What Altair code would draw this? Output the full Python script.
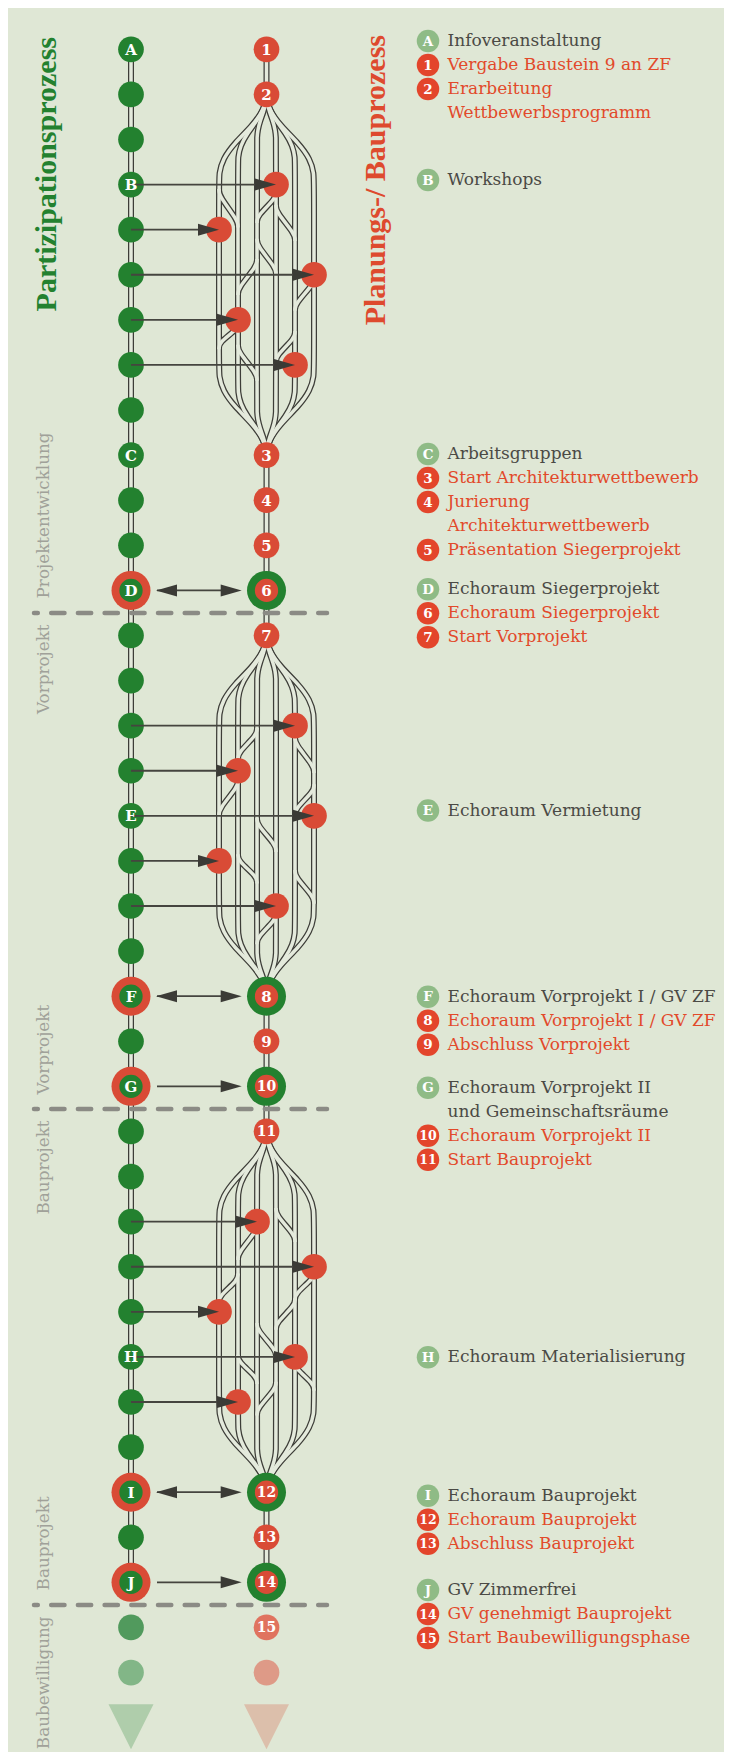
import altair as alt
import pandas as pd

# ---------------- data ----------------
GREEN_STEPS = list(range(35))
GREEN_LETTERS = ["A", "B", "C", "D", "E", "F", "G", "H", "I", "J"]
GREEN_LETTER_STEPS = [0, 3, 9, 12, 17, 21, 23, 29, 32, 34]
ECHO_STEPS = [12, 21, 23, 32, 34]
RED_NUMBERS = ["1", "2", "3", "4", "5", "6", "7", "8", "9", "10", "11", "12", "13", "14"]
RED_NUMBER_STEPS = [0, 1, 9, 10, 11, 12, 13, 21, 22, 23, 24, 32, 33, 34]
FADED_STEPS = [35, 36]
FADED_RED_LABELS = ["15", ""]
ARROW_DOWN_STEP = 37

BRAID_TOPS = [1, 13, 24]
BRAID_LEN = 8
BRAID_NODE_REL = [2, 3, 4, 5, 6]
BRAID_NODE_LANE = [[3, 0, 5, 1, 4], [4, 1, 5, 0, 3], [2, 5, 0, 4, 1]]
BRAID_WIGGLES = [
    [(2.1, 0, 2.95, 1), (2.15, 3, 2.85, 2), (2.45, 3, 3.25, 4), (3.2, 2, 4.0, 3),
     (3.65, 2, 4.45, 1), (4.05, 5, 4.8, 4), (5.05, 1, 5.65, 0), (5.25, 4, 5.95, 3),
     (5.55, 1, 6.35, 2)],
    [(2.05, 2, 2.75, 1), (2.25, 4, 3.05, 5), (3.2, 1, 4.0, 0), (3.3, 5, 4.0, 4),
     (4.05, 2, 4.8, 3), (4.85, 1, 5.5, 2), (5.2, 4, 5.95, 5), (6.15, 3, 6.85, 2)],
    [(1.7, 3, 2.45, 4), (2.05, 2, 2.85, 1), (3.15, 1, 3.8, 0), (3.1, 5, 3.75, 4),
     (3.7, 4, 4.4, 3), (4.25, 2, 5.0, 3), (4.95, 1, 5.6, 2), (5.1, 4, 5.75, 5),
     (5.55, 3, 6.3, 2)],
]
TWO_WAY_STEPS = [12, 21, 32]
ONE_WAY_STEPS = [23, 34]

PHASE_BREAKS = [12.5, 23.5, 34.5]
PHASE_LABELS = ["Projektentwicklung", "Vorprojekt", "Vorprojekt", "Bauprojekt", "Bauprojekt", "Baubewilligung"]
PHASE_BREAK_OF = [0, 0, 1, 1, 2, 2]
PHASE_SIDE = ["above", "below", "above", "below", "above", "below"]

TITLES = ["Partizipationsprozess", "Planungs-/ Bauprozess"]

LEGEND_BADGE = ["A", "1", "2", "", "B",
                "C", "3", "4", "", "5",
                "D", "6", "7", "E",
                "F", "8", "9",
                "G", "", "10", "11", "H",
                "I", "12", "13",
                "J", "14", "15"]
LEGEND_SIDE = ["g", "r", "r", "r", "g",
               "g", "r", "r", "r", "r",
               "g", "r", "r", "g",
               "g", "r", "r",
               "g", "g", "r", "r", "g",
               "g", "r", "r",
               "g", "r", "r"]
LEGEND_TEXT = ["Infoveranstaltung", "Vergabe Baustein 9 an ZF", "Erarbeitung", "Wettbewerbsprogramm", "Workshops",
               "Arbeitsgruppen", "Start Architekturwettbewerb", "Jurierung", "Architekturwettbewerb", "Präsentation Siegerprojekt",
               "Echoraum Siegerprojekt", "Echoraum Siegerprojekt", "Start Vorprojekt", "Echoraum Vermietung",
               "Echoraum Vorprojekt I / GV ZF", "Echoraum Vorprojekt I / GV ZF", "Abschluss Vorprojekt",
               "Echoraum Vorprojekt II", "und Gemeinschaftsräume", "Echoraum Vorprojekt II", "Start Bauprojekt", "Echoraum Materialisierung",
               "Echoraum Bauprojekt", "Echoraum Bauprojekt", "Abschluss Bauprojekt",
               "GV Zimmerfrei", "GV genehmigt Bauprojekt", "Start Baubewilligungsphase"]
LEGEND_GROUP = [0, 0, 0, 0, 1,
                2, 2, 2, 2, 2,
                3, 3, 3, 4,
                5, 5, 5,
                6, 6, 6, 6, 7,
                8, 8, 8,
                9, 9, 9]

# ---------------- layout / style ----------------
W, H = 716, 1744
PX_COL = 135.5          # px between the two process lines
STEP_PX = 45.09         # px per milestone step


def ux(px):             # page px -> column units
    return (px - 131.0) / PX_COL


def uy(py):             # page px -> step units
    return (py - 49.3) / STEP_PX


X0, X1 = ux(8), ux(8 + W)
Y0, Y1 = uy(8), uy(8 + H)
LANE = 19.0 / PX_COL
FAN = {0: 1.0, 1: 0.8, 2: 0.55, 3: 0.55, 4: 0.8, 5: 1.0}
# fan-out shape: (fraction of lane offset, fraction of fan depth)
FAN_SHAPE = [(0.0, 0.0), (0.04, 0.18), (0.3, 0.4), (0.68, 0.62), (0.92, 0.82), (1.0, 1.0), (1.0, 1.15)]
FAN_DEPTH = 1.75


def lane_x(k):
    return 1 + (k - 2.5) * LANE


LEG_TOP = [41, 180, 454, 589.3, 810.6, 996.7, 1087.7, 1357.3, 1495.7, 1590]
LEG_LINE = 24.0 / STEP_PX

BG = "#dfe7d5"
GREEN = "#23812f"
RED = "#d94b36"
DARK = "#3d3d38"
INNER = "#e4eadc"
DASHC = "#8b8b85"
PHASEC = "#a0a199"
LEG_G = "#8fbb86"
LEG_R = "#e3452b"
TXT_D = "#4b4a45"
TXT_R = "#e24a2b"
FADE_G = ["#519a5d", "#82b687"]
FADE_R = ["#e0735f", "#de9a87"]
TRI_G, TRI_R = "#afcdab", "#dcbfab"

NODE_S = 25.7 ** 2
RING_S = 39.0 ** 2
INNER_S = 23.3 ** 2
SERIF = "DejaVu Serif"

XS = alt.Scale(domain=[X0, X1], nice=False, zero=False)
YS = alt.Scale(domain=[Y0, Y1], nice=False, zero=False, reverse=True)


def ex(f="x"):
    return alt.X(f"{f}:Q", scale=XS, axis=None)


def ey(f="y"):
    return alt.Y(f"{f}:Q", scale=YS, axis=None)


# ---------------- strands (double lines) ----------------
srows = []
count = [0]


def add_strand(pts):
    sid = count[0]
    count[0] += 1
    for i, (x, y) in enumerate(pts):
        srows.append(dict(sid=sid, seq=i, x=x, y=y))


add_strand([(0, GREEN_STEPS[0]), (0, GREEN_STEPS[-1])])
red_segments = [(0, 1), (9, 13), (21, 24), (32, 34)]
for a, b in red_segments:
    add_strand([(1, a), (1, b)])

for bi, T in enumerate(BRAID_TOPS):
    B = T + BRAID_LEN
    for k in range(6):
        o = (k - 2.5) * LANE
        d = FAN_DEPTH * FAN[k]
        top = [(1 + fx * o, T + fy * d) for fx, fy in FAN_SHAPE]
        bottom = [(1 + fx * o, B - fy * d) for fx, fy in reversed(FAN_SHAPE)]
        add_strand(top + bottom)
    for (r0, a, r1, c) in BRAID_WIGGLES[bi]:
        add_strand([(lane_x(a), T + r0), (lane_x(a), T + r0 + 0.15),
                    (lane_x(c), T + r1 - 0.15), (lane_x(c), T + r1)])

sdf = pd.DataFrame(srows)
casing = alt.Chart(sdf).mark_line(interpolate="basis", color=DARK, strokeWidth=6.0).encode(
    x=ex(), y=ey(), detail="sid:N", order="seq:Q")
inner = alt.Chart(sdf).mark_line(interpolate="basis", color=INNER, strokeWidth=3.5).encode(
    x=ex(), y=ey(), detail="sid:N", order="seq:Q")

# ---------------- phase dashed lines ----------------
ddf = pd.DataFrame({"y": PHASE_BREAKS, "x": [ux(34)] * 3, "x2": [ux(327)] * 3})
dashes = alt.Chart(ddf).mark_rule(color=DASHC, strokeWidth=4.5, strokeDash=[13.3, 13.4],
                                  strokeDashOffset=9.5, strokeCap="round").encode(
    x=ex(), x2="x2:Q", y=ey())

# ---------------- nodes ----------------
ring_rows = []
for s in ECHO_STEPS:
    ring_rows.append(dict(x=0, y=s, col=RED))
    ring_rows.append(dict(x=1, y=s, col=GREEN))
rings = alt.Chart(pd.DataFrame(ring_rows)).mark_circle(size=RING_S, opacity=1).encode(
    x=ex(), y=ey(), color=alt.Color("col:N", scale=None))

nrows = []
for s in GREEN_STEPS:
    nrows.append(dict(x=0, y=s, col=GREEN, s=INNER_S if s in ECHO_STEPS else NODE_S))
for s in RED_NUMBER_STEPS:
    nrows.append(dict(x=1, y=s, col=RED, s=INNER_S if s in ECHO_STEPS else NODE_S))
for bi, T in enumerate(BRAID_TOPS):
    for r, k in zip(BRAID_NODE_REL, BRAID_NODE_LANE[bi]):
        nrows.append(dict(x=lane_x(k), y=T + r, col=RED, s=NODE_S))
for i, s in enumerate(FADED_STEPS):
    nrows.append(dict(x=0, y=s, col=FADE_G[i], s=NODE_S))
    nrows.append(dict(x=1, y=s, col=FADE_R[i], s=NODE_S))
nodes = alt.Chart(pd.DataFrame(nrows)).mark_circle(opacity=1).encode(
    x=ex(), y=ey(), color=alt.Color("col:N", scale=None), size=alt.Size("s:Q", scale=None))

tri = alt.Chart(pd.DataFrame({"x": [0, 1], "y": [ARROW_DOWN_STEP] * 2, "col": [TRI_G, TRI_R]})).mark_point(
    shape="M -1 -0.6 L 1 -0.6 L 0 1.4 Z", size=45 ** 2, filled=True, opacity=1, strokeWidth=0).encode(
    x=ex(), y=ey(), color=alt.Color("col:N", scale=None))

# ---------------- arrows ----------------
arows, rheads, lheads = [], [], []
for bi, T in enumerate(BRAID_TOPS):
    for r, k in zip(BRAID_NODE_REL, BRAID_NODE_LANE[bi]):
        arows.append(dict(x=0, x2=lane_x(k) - 0.05, y=T + r))
        rheads.append(dict(x=lane_x(k), y=T + r))
for s in TWO_WAY_STEPS + ONE_WAY_STEPS:
    arows.append(dict(x=ux(157), x2=ux(236), y=s))
    rheads.append(dict(x=ux(241.7), y=s))
for s in TWO_WAY_STEPS:
    lheads.append(dict(x=ux(156), y=s))

alines = alt.Chart(pd.DataFrame(arows)).mark_rule(color="#45453f", strokeWidth=1.8).encode(
    x=ex(), x2="x2:Q", y=ey())
rh = alt.Chart(pd.DataFrame(rheads)).mark_point(
    shape="M 0 0 L -2.1 -0.6 L -2.1 0.6 Z", size=400, filled=True, opacity=1, color="#3b3b36",
    strokeWidth=0).encode(x=ex(), y=ey())
lh = alt.Chart(pd.DataFrame(lheads)).mark_point(
    shape="M 0 0 L 2.1 -0.6 L 2.1 0.6 Z", size=400, filled=True, opacity=1, color="#3b3b36",
    strokeWidth=0).encode(x=ex(), y=ey())

# ---------------- node labels ----------------
lrows = []
for t, s in zip(GREEN_LETTERS, GREEN_LETTER_STEPS):
    lrows.append(dict(x=0, y=s, t=t, fs=15))
for t, s in zip(RED_NUMBERS, RED_NUMBER_STEPS):
    lrows.append(dict(x=1, y=s, t=t, fs=15 if len(t) == 1 else 14))
for t, s in zip(FADED_RED_LABELS, FADED_STEPS):
    if t:
        lrows.append(dict(x=1, y=s, t=t, fs=14))
nlabels = alt.Chart(pd.DataFrame(lrows)).mark_text(
    font=SERIF, fontWeight="bold", color="white", baseline="middle", align="center", dy=0.5).encode(
    x=ex(), y=ey(), text="t:N", size=alt.Size("fs:Q", scale=None))

# ---------------- legend ----------------
legrows = []
line_in_group = {}
for b, side, txt, g in zip(LEGEND_BADGE, LEGEND_SIDE, LEGEND_TEXT, LEGEND_GROUP):
    n = line_in_group.get(g, 0)
    line_in_group[g] = n + 1
    legrows.append(dict(y=uy(LEG_TOP[g]) + n * LEG_LINE, b=b, t=txt,
                        bcol=LEG_G if side == "g" else LEG_R,
                        tcol=TXT_D if side == "g" else TXT_R,
                        fs=13.5 if len(b) == 1 else 12.5))
ldf = pd.DataFrame(legrows)
ldf["bx"] = ux(428)
ldf["tx"] = ux(447.5)
bdf = ldf[ldf["b"] != ""]
badges = alt.Chart(bdf).mark_circle(size=22.5 ** 2, opacity=1).encode(
    x=ex("bx"), y=ey(), color=alt.Color("bcol:N", scale=None))
blabels = alt.Chart(bdf).mark_text(font=SERIF, fontWeight="bold", color="white",
                                   baseline="middle", align="center", dy=0.5).encode(
    x=ex("bx"), y=ey(), text="b:N", size=alt.Size("fs:Q", scale=None))
ltext = alt.Chart(ldf).mark_text(font=SERIF, fontSize=17, baseline="middle", align="left").encode(
    x=ex("tx"), y=ey(), text="t:N", color=alt.Color("tcol:N", scale=None))

# ---------------- titles & phase labels ----------------
tdf = pd.DataFrame({"t": TITLES, "x": [ux(46.7), ux(376.4)], "y": [uy(37), uy(35)],
                    "col": [GREEN, "#de4a2e"]})
titles = alt.Chart(tdf).mark_text(font="Liberation Serif", fontWeight="bold", fontSize=30, angle=270,
                                  align="right", baseline="middle").encode(
    x=ex(), y=ey(), text="t:N", color=alt.Color("col:N", scale=None))

prows = []
for lab, bo, side in zip(PHASE_LABELS, PHASE_BREAK_OF, PHASE_SIDE):
    yb = PHASE_BREAKS[bo]
    if side == "above":
        prows.append(dict(t=lab, y=yb - 14.5 / STEP_PX, al="left"))
    else:
        prows.append(dict(t=lab, y=yb + 11.5 / STEP_PX, al="right"))
pdf = pd.DataFrame(prows)
pdf["x"] = ux(44.3)
ph_left = alt.Chart(pdf[pdf["al"] == "left"]).mark_text(
    font=SERIF, fontSize=16.8, angle=270, align="left", baseline="middle", color=PHASEC).encode(
    x=ex(), y=ey(), text="t:N")
ph_right = alt.Chart(pdf[pdf["al"] == "right"]).mark_text(
    font=SERIF, fontSize=16.8, angle=270, align="right", baseline="middle", color=PHASEC).encode(
    x=ex(), y=ey(), text="t:N")

chart = alt.layer(
    casing, inner, dashes, rings, nodes, tri, alines, rh, lh, nlabels,
    badges, blabels, ltext, titles, ph_left, ph_right
).properties(
    width=W, height=H, background=BG, padding=0,
    autosize=alt.AutoSizeParams(type="none")
).configure_view(strokeWidth=0)

chart.save("out.html", embed_options={"renderer": "svg", "actions": False})
